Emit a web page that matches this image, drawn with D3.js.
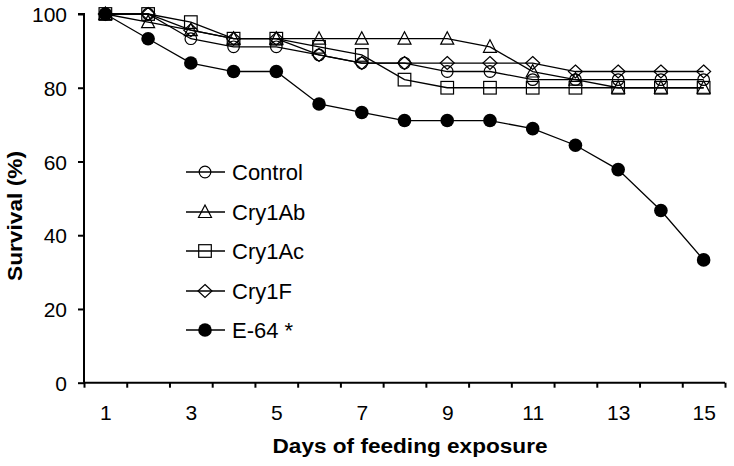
<!DOCTYPE html>
<html><head><meta charset="utf-8">
<script src="https://cdn.jsdelivr.net/npm/d3@7"></script>
<style>body{margin:0;background:#fff}svg{display:block}text{font-family:Arial,"Liberation Sans",sans-serif;fill:#000}</style>
</head><body><svg id="c" width="734" height="466"></svg>
<script>
const days = [1,2,3,4,5,6,7,8,9,10,11,12,13,14,15];
const xLabels = [1,3,5,7,9,11,13,15];
const yTicks = [0,20,40,60,80,100];
const seriesNames = ["Control","Cry1Ab","Cry1Ac","Cry1F","E-64 *"];
const control = [100,100,93.3,91.1,91.1,88.9,86.7,86.7,84.4,84.4,82.2,82.2,82.2,82.2,82.2];
const cry1Ab  = [100,97.8,95.6,93.3,93.3,93.3,93.3,93.3,93.3,91.1,84.4,82.2,80,80,80];
const cry1Ac  = [100,100,97.8,93.3,93.3,91.1,88.9,82.2,80,80,80,80,80,80,80];
const cry1F   = [100,100,95.6,93.3,93.3,88.9,86.7,86.7,86.7,86.7,86.7,84.4,84.4,84.4,84.4];
const e64     = [100,93.3,86.7,84.4,84.4,75.6,73.3,71.1,71.1,71.1,68.9,64.4,57.8,46.7,33.3];
const seriesValues = [control,cry1Ab,cry1Ac,cry1F,e64];
const markers = ["circle","triangle","square","diamond","dot"];

const svg = d3.select("#c");
const x = d3.scaleLinear().domain([0.5,15.5]).range([84,725]);
const y = d3.scaleLinear().domain([0,100]).range([382.7,14]);

// y axis
const ya = svg.append("g").attr("transform","translate(84,0)")
  .call(d3.axisLeft(y).tickValues(yTicks).tickSize(6).tickPadding(11).tickFormat(d3.format("d")));
ya.select(".domain").attr("stroke","#000").attr("stroke-width",2).attr("d","M-6,"+y(100)+"H0V"+y(0));
ya.selectAll(".tick line").attr("stroke","#000").attr("stroke-width",2);
ya.selectAll("text").style("font-size","21px").attr("dy","0.36em");

// x axis
const bounds = d3.range(0.5,15.6,1);
const xa = svg.append("g").attr("transform","translate(0,"+y(0)+")")
  .call(d3.axisBottom(x).tickValues(bounds).tickSize(5).tickFormat(""));
xa.select(".domain").attr("stroke","#000").attr("stroke-width",2).attr("d","M"+x(0.5)+",0H"+x(15.5));
xa.selectAll(".tick line").attr("stroke","#000").attr("stroke-width",2);
const xl = svg.append("g").attr("transform","translate(0,"+y(0)+")")
  .call(d3.axisBottom(x).tickValues(xLabels).tickSize(0).tickPadding(22).tickFormat(d3.format("d")));
xl.select(".domain").remove();
xl.selectAll("text").style("font-size","21px");

// titles
svg.append("text").attr("x",410).attr("y",453).attr("text-anchor","middle")
  .style("font-size","20px").style("font-weight","bold")
  .attr("textLength",275).attr("lengthAdjust","spacingAndGlyphs").text("Days of feeding exposure");
svg.append("text").attr("transform","translate(22,216) rotate(-90)").attr("text-anchor","middle")
  .style("font-size","20px").style("font-weight","bold")
  .attr("textLength",130).attr("lengthAdjust","spacingAndGlyphs").text("Survival (%)");

function drawMarker(g, type, cx, cy){
  if(type==="circle") g.append("circle").attr("cx",cx).attr("cy",cy).attr("r",5.8).attr("fill","none").attr("stroke","#000").attr("stroke-width",1.2);
  else if(type==="dot") g.append("circle").attr("cx",cx).attr("cy",cy).attr("r",6.8).attr("fill","#000");
  else if(type==="square") g.append("rect").attr("x",cx-6.3).attr("y",cy-6.3).attr("width",12.6).attr("height",12.6).attr("fill","none").attr("stroke","#000").attr("stroke-width",1.2);
  else if(type==="triangle") g.append("path").attr("d",`M${cx},${cy-7}L${cx+6.5},${cy+5.5}L${cx-6.5},${cy+5.5}Z`).attr("fill","none").attr("stroke","#000").attr("stroke-width",1.2);
  else if(type==="diamond") g.append("path").attr("d",`M${cx},${cy-6.5}L${cx+7},${cy}L${cx},${cy+6.5}L${cx-7},${cy}Z`).attr("fill","none").attr("stroke","#000").attr("stroke-width",1.2);
}

const line = d3.line().x((d,i)=>x(days[i])).y(d=>y(d));
seriesValues.forEach((vals,s)=>{
  const g = svg.append("g");
  g.append("path").attr("d",line(vals)).attr("fill","none").attr("stroke","#000").attr("stroke-width",1.3);
  vals.forEach((v,i)=>drawMarker(g, markers[s], x(days[i]), y(v)));
});

// legend
const legY = [172,212,251,291,330];
seriesNames.forEach((n,s)=>{
  const g = svg.append("g");
  g.append("line").attr("x1",186).attr("x2",225).attr("y1",legY[s]).attr("y2",legY[s]).attr("stroke","#000").attr("stroke-width",1.3);
  drawMarker(g, markers[s], 205, legY[s]);
  g.append("text").attr("x",232).attr("y",legY[s]).attr("dy","0.36em").style("font-size","22px").text(n);
});
</script></body></html>
